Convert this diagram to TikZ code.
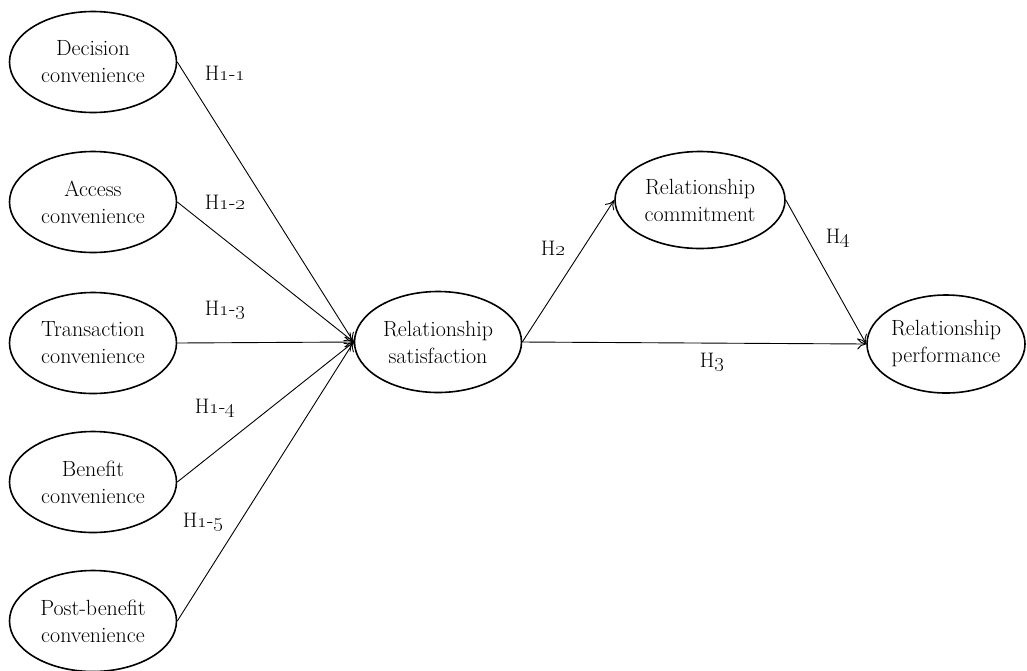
\documentclass[tikz,border=0pt]{standalone}
\usetikzlibrary{shapes.geometric,arrows.meta}
\begin{document}
\begin{tikzpicture}[x=1pt,y=-1pt,
  construct/.style={ellipse,draw,line width=1.6pt,inner sep=0pt,minimum width=167pt,minimum height=101pt,align=center,font=\fontsize{22}{27}\selectfont},
  path/.style={line width=0.9pt,-{To[length=9pt,width=11pt,line width=0.9pt]}},
  hyp/.style={font=\fontsize{21}{27}\selectfont}]
\useasboundingbox (0,0) rectangle (1027,670);
\node[construct] (dec) at (93,62) {Decision\\convenience};
\node[construct] (acc) at (93,202) {Access\\convenience};
\node[construct] (tra) at (93,343) {Transaction\\convenience};
\node[construct] (ben) at (93,482) {Benefit\\convenience};
\node[construct] (post) at (93,621) {Post-benefit\\convenience};
\node[construct] (sat) at (438,342) {Relationship\\satisfaction};
\node[construct,minimum width=170pt,minimum height=97pt] (com) at (700,200) {Relationship\\commitment};
\node[construct,minimum width=158pt,minimum height=98pt] (perf) at (946,344) {Relationship\\performance};
\draw[path] (dec.east) -- (sat.west);
\draw[path] (acc.east) -- (sat.west);
\draw[path] (tra.east) -- (sat.west);
\draw[path] (ben.east) -- (sat.west);
\draw[path] (post.east) -- (sat.west);
\draw[path] (sat.east) -- (com.west);
\draw[path] (sat.east) -- (perf.west);
\draw[path] (com.east) -- (perf.west);
\node[hyp] (h11) at (225,73) {H\oldstylenums{1}-\oldstylenums{1}};
\node[hyp] (h12) at (225,202) {H\oldstylenums{1}-\oldstylenums{2}};
\node[hyp] (h13) at (225,310) {H\oldstylenums{1}-\oldstylenums{3}};
\node[hyp] (h14) at (215,408) {H\oldstylenums{1}-\oldstylenums{4}};
\node[hyp] (h15) at (203,522) {H\oldstylenums{1}-\oldstylenums{5}};
\node[hyp] (h2) at (553,248) {H\oldstylenums{2}};
\node[hyp] (h3) at (712,362) {H\oldstylenums{3}};
\node[hyp] (h4) at (838,238) {H\oldstylenums{4}};
\end{tikzpicture}
\end{document}
